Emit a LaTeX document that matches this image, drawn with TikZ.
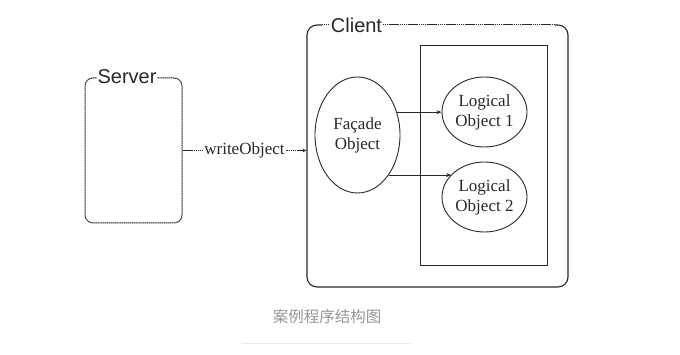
\documentclass[tikz,border=0pt]{standalone}
\usepackage{fontspec}
\setmainfont{Liberation Serif}
\newfontfamily\arialf{Liberation Sans}
\newfontfamily\cjk{Noto Sans CJK SC}
\usetikzlibrary{shapes.geometric,arrows.meta}
\definecolor{ink}{RGB}{40,40,40}
\definecolor{capgray}{RGB}{150,150,150}
\definecolor{rulegray}{RGB}{235,235,235}
\tikzset{
  dotline/.style={draw=ink,line width=1pt,dash pattern=on 1.4pt off 0.5pt},
  oval/.style={ellipse,draw=ink,line width=0.9pt,inner sep=0pt,align=center,font=\fontsize{17}{20}\selectfont,text=ink},
  titlelbl/.style={fill=white,inner sep=1pt,font=\arialf\fontsize{20}{22}\selectfont,text=ink},
  arr/.style={draw=ink,line width=0.9pt,-{Stealth[length=5pt,width=4pt]}}
}
\begin{document}
\begin{tikzpicture}[x=1pt,y=1pt]
\useasboundingbox (0,0) rectangle (680,355);
% Server box
\node[dotline,rectangle,rounded corners=8pt,minimum width=97pt,minimum height=145pt] (server) at (133.5,204.5) {};
\node[titlelbl] (servert) at (127,278) {Server};
% Client box
\node[draw=ink,line width=1.1pt,rectangle,rounded corners=10pt,minimum width=261pt,minimum height=262pt] (client) at (437.5,199) {};
\coordinate (ctl) at (322,330);
\coordinate (ctr) at (555,330);
\draw[white,line width=2pt] (ctl) -- (ctr);
\draw[dotline] (ctl) -- (ctr);
\node[titlelbl] (clientt) at (356.5,329.5) {Client};
% inner box
\node[draw=ink,line width=1pt,rectangle,minimum width=127pt,minimum height=220pt] (inner) at (483.5,199) {};
% ellipses
\node[oval,minimum width=85pt,minimum height=116pt] (facade) at (357.5,220) {Façade\\Object};
\node[oval,minimum width=85pt,minimum height=70pt] (lo1) at (484.5,243) {Logical\\Object 1};
\node[oval,minimum width=85pt,minimum height=70pt] (lo2) at (484.5,158) {Logical\\Object 2};
% arrows
\draw[arr] (facade.30) -- (facade.30 -| lo1.west);
\draw[arr] (facade.-52) -- (facade.-52 -| lo2.146);
% writeObject
\draw[dotline,-{Stealth[length=4pt,width=3.5pt]}] (server.east) -- node[fill=white,inner sep=1pt,font=\fontsize{17}{19}\selectfont,text=ink] (wo) {writeObject} (server.east -| client.west);
% caption
\node[text=capgray,font=\cjk\fontsize{15.5}{18}\selectfont] (cap) at (327,38) {案例程序结构图};
\coordinate (rl) at (242,11);
\coordinate (rr) at (412,11);
\draw[rulegray,line width=1pt] (rl) -- (rr);
\end{tikzpicture}
\end{document}
